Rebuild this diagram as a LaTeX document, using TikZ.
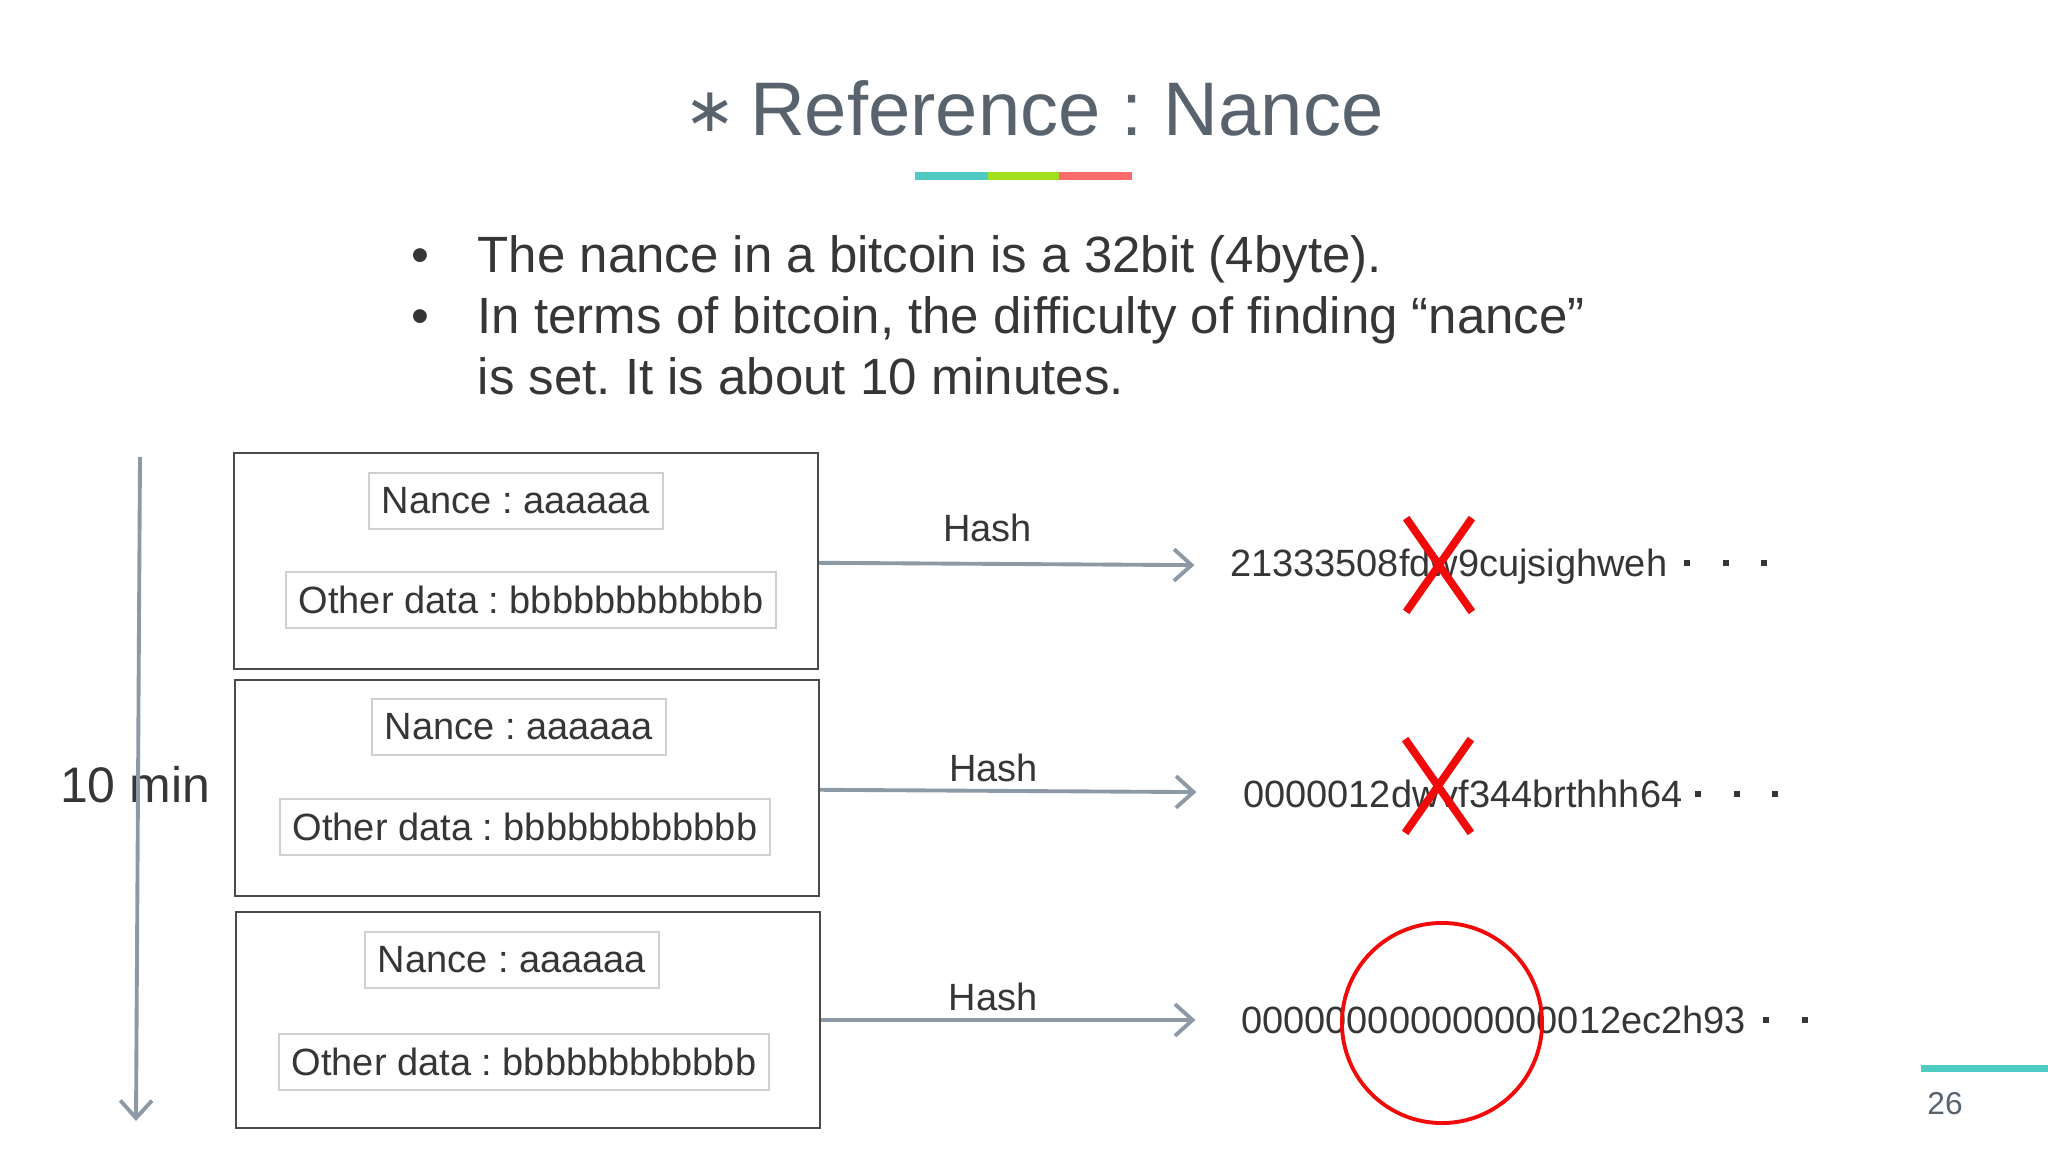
\documentclass[tikz,border=0pt]{standalone}
\usepackage{fontspec}
\setmainfont{Liberation Sans}
\newfontfamily\astfont{DejaVu Sans}
\usepackage{tikz}
\usetikzlibrary{arrows.meta, positioning, shapes.misc}
\frenchspacing
\definecolor{slidegray}{HTML}{58636E}
\definecolor{inkgray}{HTML}{363636}
\definecolor{arrowgray}{HTML}{8E99A6}
\definecolor{framegray}{HTML}{4A4A4A}
\definecolor{fieldgray}{HTML}{CFCFCF}
\definecolor{barteal}{HTML}{4FCBC3}
\definecolor{barlime}{HTML}{A2E01B}
\definecolor{barsalmon}{HTML}{F86B6A}
\definecolor{markred}{HTML}{F00A0A}
\newcommand\sqdot{\rule[0.105cm]{0.06cm}{0.06cm}}
\tikzset{
  ttl/.style={text=slidegray, font=\fontsize{21.6}{26}\selectfont, inner sep=0pt},
  ptxt/.style={text=inkgray, font=\fontsize{14.5}{17.5}\selectfont, inner sep=0pt, anchor=base west},
  blkbox/.style={draw=framegray, line width=0.6pt, minimum width=5.84cm, minimum height=2.16cm, inner sep=0pt},
  fldbox/.style={draw=fieldgray, line width=0.5pt, text=inkgray, font=\fontsize{10.8}{13}\selectfont, inner xsep=0.13cm, inner ysep=0pt, minimum height=0.56cm},
  hashlbl/.style={text=inkgray, font=\fontsize{10.8}{13}\selectfont, inner sep=0pt, pos=0.41, above=0.07cm},
  hashout/.style={text=inkgray, font=\fontsize{10.8}{13}\selectfont, inner sep=0pt},
  hflow/.style={-{Straight Barb[length=5pt, width=9pt]}, arrowgray, line width=1.1pt, shorten >=0.35cm},
  vflow/.style={-{Straight Barb[length=5pt, width=9pt]}, arrowgray, line width=1.1pt},
  nogo/.style={cross out, draw=markred, line width=2.2pt, minimum width=0.58cm, minimum height=0.86cm, inner sep=0pt},
  okring/.style={circle, draw=markred, line width=1.1pt, minimum size=2cm, inner sep=0pt},
}

\begin{document}
\begin{tikzpicture}[x=0.01cm, y=-0.01cm]
  \fill[white] (0,0) rectangle (2048,1152);
  \useasboundingbox (0,0) rectangle (2048,1152);

  % title and its bar
  \node[ttl] (title) at (1034,108) {\raisebox{0.04cm}{\astfont\fontsize{17.5}{20}\selectfont ∗}\hspace{0.14cm}Reference : Nance};
  \fill[barteal] (915,172) rectangle (988,180);
  \fill[barlime] (988,172) rectangle (1059,180);
  \fill[barsalmon] (1059,172) rectangle (1132,180);

  % points
  \node[ptxt, anchor=base] (bul1) at (420,273) {•};
  \node[ptxt, anchor=base] (bul2) at (420,334) {•};
  \node[ptxt] (pt1) at (477,273) {The nance in a bitcoin is a 32bit (4byte).};
  \node[ptxt] (pt2) at (477,334) {In terms of bitcoin, the difficulty of finding “nance”};
  \node[ptxt] (pt3) at (477,395) {is set. It is about 10 minutes.};

  % blocks
  \node[blkbox] (blk1) at (526,561) {};
  \node[fldbox] (nc1) at (516,501) {Nance : aaaaaa};
  \node[fldbox] (od1) at (531,600) {Other data : bbbbbbbbbbbb};
  \node[blkbox] (blk2) at (527,788) {};
  \node[fldbox] (nc2) at (519,727) {Nance : aaaaaa};
  \node[fldbox] (od2) at (525,827) {Other data : bbbbbbbbbbbb};
  \node[blkbox] (blk3) at (528,1020) {};
  \node[fldbox] (nc3) at (512,960) {Nance : aaaaaa};
  \node[fldbox] (od3) at (524,1062) {Other data : bbbbbbbbbbbb};

  % hashes
  \node[hashout, right=4.1cm of blk1, yshift=-0.06cm] (res1) {21333508fdw9cujsighweh\hspace{0.17cm}\sqdot\hspace{0.325cm}\sqdot\hspace{0.325cm}\sqdot};
  \node[hashout, right=4.22cm of blk2, yshift=-0.06cm] (res2) {0000012dwvf344brthhh64\hspace{0.13cm}\sqdot\hspace{0.325cm}\sqdot\hspace{0.325cm}\sqdot};
  \node[hashout, right=4.19cm of blk3] (res3) {000000000000000012ec2h93\hspace{0.17cm}\sqdot\hspace{0.325cm}\sqdot};
  \draw[hflow] (blk1) -- node[hashlbl, above=0.2cm] {Hash} (res1);
  \draw[hflow, shorten >=0.46cm] (blk2) -- node[hashlbl] {Hash} (res2);
  \draw[hflow, shorten >=0.45cm] (blk3) -- node[hashlbl] {Hash} (res3);

  % marks
  \node[nogo] (nope1) at (1439,565) {};
  \node[nogo] (nope2) at (1438,786) {};
  \node[okring] (hit3) at (1442,1023) {};

  % time
  \coordinate (t0) at (140,457);
  \coordinate (t1) at (136,1121);
  \node[text=inkgray, font=\fontsize{14.2}{17}\selectfont, inner sep=0pt] (span) at (135,785) {10 min};
  \draw[vflow] (t0) -- (t1);

  % page
  \fill[barteal] (1921,1065) rectangle (2048,1072);
  \node[text=slidegray, font=\fontsize{9}{11}\selectfont, inner sep=0pt] (pg) at (1945,1104) {26};
\end{tikzpicture}
\end{document}
